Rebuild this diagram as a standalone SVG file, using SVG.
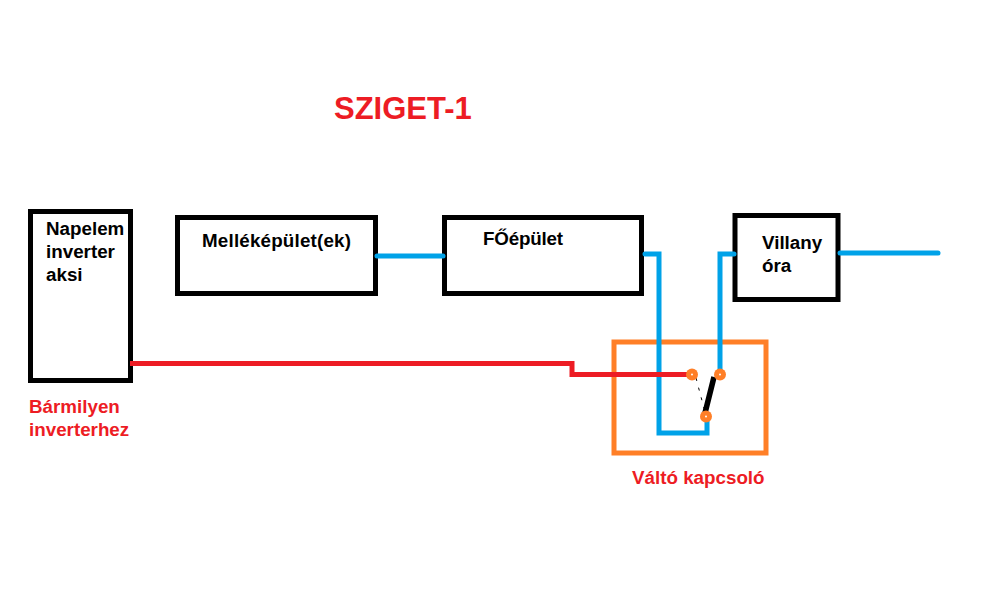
<svg xmlns="http://www.w3.org/2000/svg" width="1000" height="600" viewBox="0 0 1000 600">
<style>
.box{fill:none;stroke:#000;stroke-width:5}
.t{font-family:"Liberation Sans",Arial,sans-serif;font-weight:bold;font-size:18.8px;fill:#000}
.r{fill:#ed1c24}
.blue{fill:none;stroke:#00a2e8;stroke-width:5;stroke-linecap:round;stroke-linejoin:miter}
.red{fill:none;stroke:#ed1c24;stroke-width:5}
.term{fill:#ff7f27}
.hole{fill:#fff}
</style>
<rect width="1000" height="600" fill="#fff"/>
<text class="t r" x="334" y="119" style="font-size:31px">SZIGET-1</text>
<g id="napelem">
<rect class="box" x="30.500" y="211.500" width="100" height="169"/>
<text class="t" x="46" y="235">Napelem</text>
<text class="t" x="46" y="258">inverter</text>
<text class="t" x="46" y="281">aksi</text>
</g>
<g id="mellekepulet">
<rect class="box" x="177.500" y="217.500" width="198" height="76"/>
<text class="t" x="202" y="247" textLength="149">Melléképület(ek)</text>
</g>
<g id="foepulet">
<rect class="box" x="444.500" y="217.500" width="197" height="76"/>
<text class="t" x="483" y="245" textLength="80">FŐépület</text>
</g>
<g id="villany">
<rect class="box" x="735" y="215.500" width="103" height="84"/>
<text class="t" x="762" y="249">Villany</text>
<text class="t" x="762" y="272">óra</text>
</g>
<g id="switch">
<rect x="614" y="342" width="152" height="111" fill="none" stroke="#ff7f27" stroke-width="5"/>
</g>
<g id="connectors">
<path class="blue" d="M377 256H443"/>
<path class="blue" d="M645 254H659V433H707V418"/>
<path class="blue" d="M734 254H720V372"/>
<path class="blue" d="M840 253H938"/>
<path class="red" d="M130 363.500H572V374.500H688"/>
<path d="M696 378L705 412" fill="none" stroke="#000" stroke-width="1" stroke-dasharray="3 7"/>
<path d="M714 377L705 413" fill="none" stroke="#000" stroke-width="5.500"/>
</g>
<g id="terminals">
<circle class="term" cx="692" cy="374.500" r="6"/><circle class="hole" cx="692" cy="374.500" r="1"/>
<circle class="term" cx="720" cy="374.500" r="6"/><circle class="hole" cx="720" cy="374.500" r="1"/>
<circle class="term" cx="706" cy="416.500" r="6"/><circle class="hole" cx="706" cy="416.500" r="1"/>
</g>
<text class="t r" x="29" y="413">Bármilyen</text>
<text class="t r" x="29" y="436">inverterhez</text>
<text class="t r" x="632" y="484">Váltó kapcsoló</text>
</svg>
